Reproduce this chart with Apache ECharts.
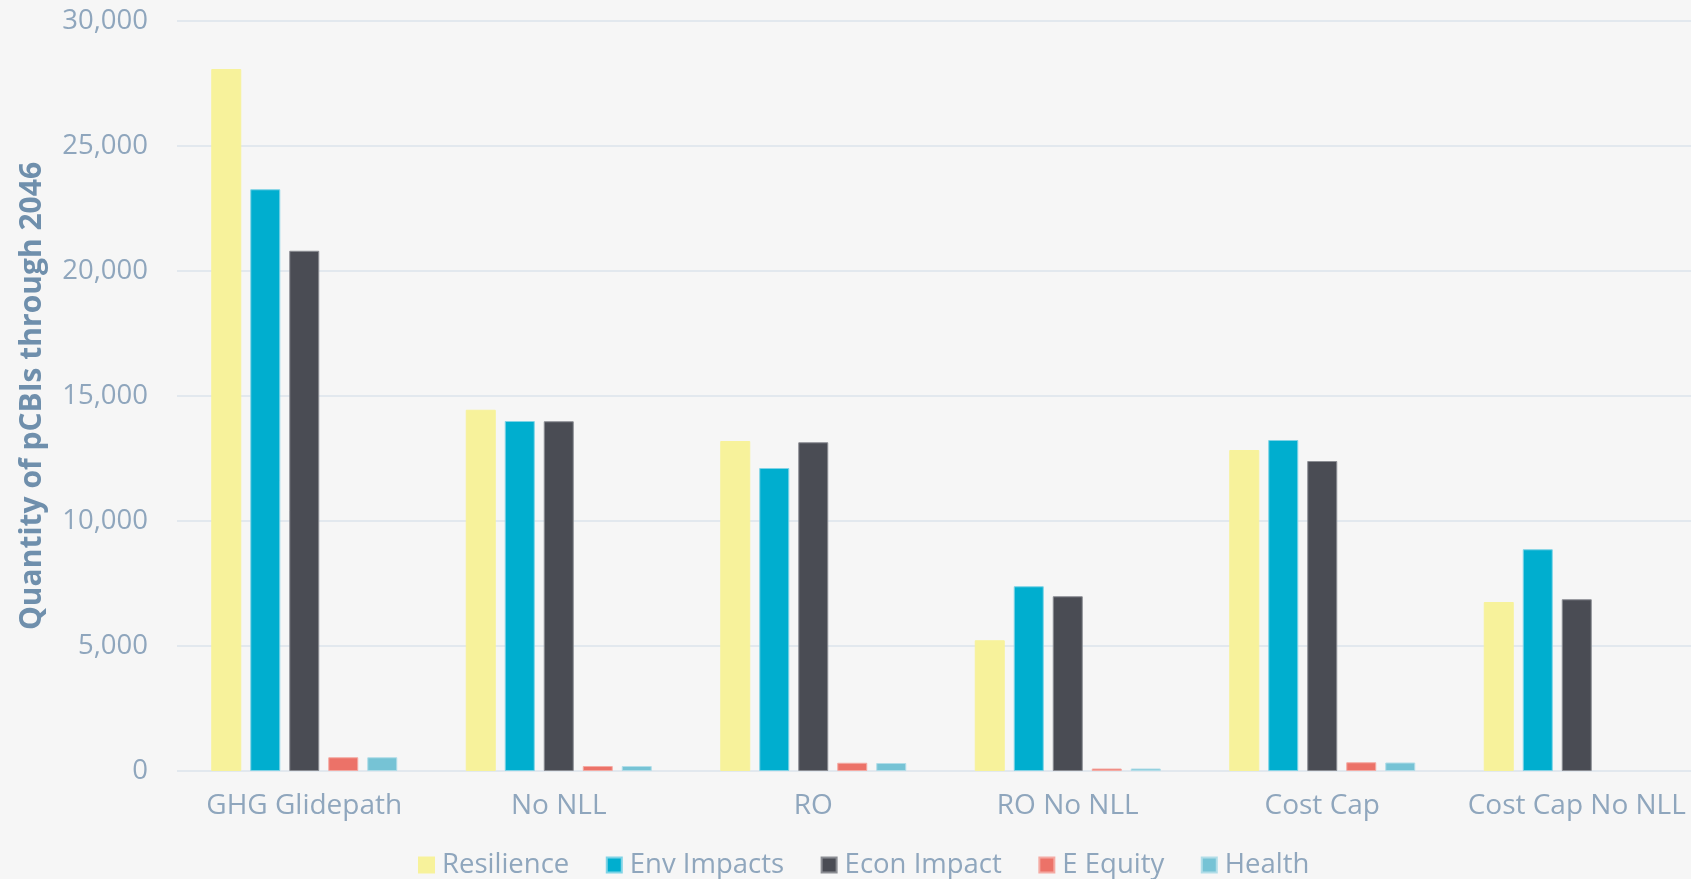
<!DOCTYPE html>
<html>
<head>
<meta charset="utf-8">
<script src="https://cdn.jsdelivr.net/npm/echarts@6/dist/echarts.min.js"></script>
<style>
html,body{margin:0;padding:0;background:#f6f6f6;}
#chart{width:1691px;height:879px;}
</style>
</head>
<body>
<div id="chart"></div>
<script>
const categories = ['GHG Glidepath', 'No NLL', 'RO', 'RO No NLL', 'Cost Cap', 'Cost Cap No NLL'];
const seriesNames = ['Resilience', 'Env Impacts', 'Econ Impact', 'E Equity', 'Health'];
const resilience = [28080, 14450, 13200, 5230, 12840, 6760];
const envImpacts = [23270, 14000, 12120, 7390, 13240, 8870];
const econImpact = [20810, 13990, 13150, 6990, 12400, 6870];
const eEquity = [550, 200, 330, 100, 350, null];
const health = [550, 200, 320, 100, 340, null];
const yTicks = [0, 5000, 10000, 15000, 20000, 25000, 30000];

const colors = ['#f7f29b', '#00aecf', '#4a4c54', '#ec7268', '#76c3d5'];
const borders = ['#f7f29b', '#7fd3e6', '#8b8d93', '#f4aaa3', '#b1dde8'];
const values = [resilience, envImpacts, econImpact, eEquity, health];

const labelFont = 'Open Sans';
const textColor = '#8fa6bd';

const chart = echarts.init(document.getElementById('chart'));
chart.setOption({
  backgroundColor: '#f6f6f6',
  animation: false,
  color: colors,
  grid: { left: 177, right: -13, top: 21, bottom: 108, containLabel: false, outerBoundsMode: 'none' },
  legend: {
    data: seriesNames,
    top: 846,
    left: 413,
    itemWidth: 15,
    itemHeight: 15,
    itemGap: 36.5,
    icon: 'rect',
    textStyle: { color: textColor, fontFamily: labelFont, fontSize: 27.5, padding: [0, 0, 0, 3] }
  },
  xAxis: {
    type: 'category',
    data: categories,
    axisLine: { show: false },
    axisTick: { show: false },
    axisLabel: { interval: 0, color: textColor, fontFamily: labelFont, fontSize: 28, margin: 21 }
  },
  yAxis: {
    type: 'value',
    min: yTicks[0],
    max: yTicks[yTicks.length - 1],
    interval: yTicks[1] - yTicks[0],
    name: 'Quantity of pCBIs through 2046',
    nameLocation: 'middle',
    nameGap: 130,
    nameTextStyle: { color: '#6f8fac', fontFamily: 'Open Sans', fontWeight: 'bold', fontSize: 30 },
    axisLine: { show: false },
    axisTick: { show: false },
    axisLabel: {
      color: textColor, fontFamily: labelFont, fontSize: 27.5, margin: 29,
      formatter: v => v.toLocaleString('en-US')
    },
    splitLine: { lineStyle: { color: '#e2e8ee', width: 2 } }
  },
  series: seriesNames.map((n, i) => ({
    name: n,
    type: 'bar',
    data: values[i],
    barWidth: 30,
    barGap: '30%',
    itemStyle: { color: colors[i], borderColor: borders[i], borderWidth: 1 }
  }))
});
</script>
</body>
</html>
